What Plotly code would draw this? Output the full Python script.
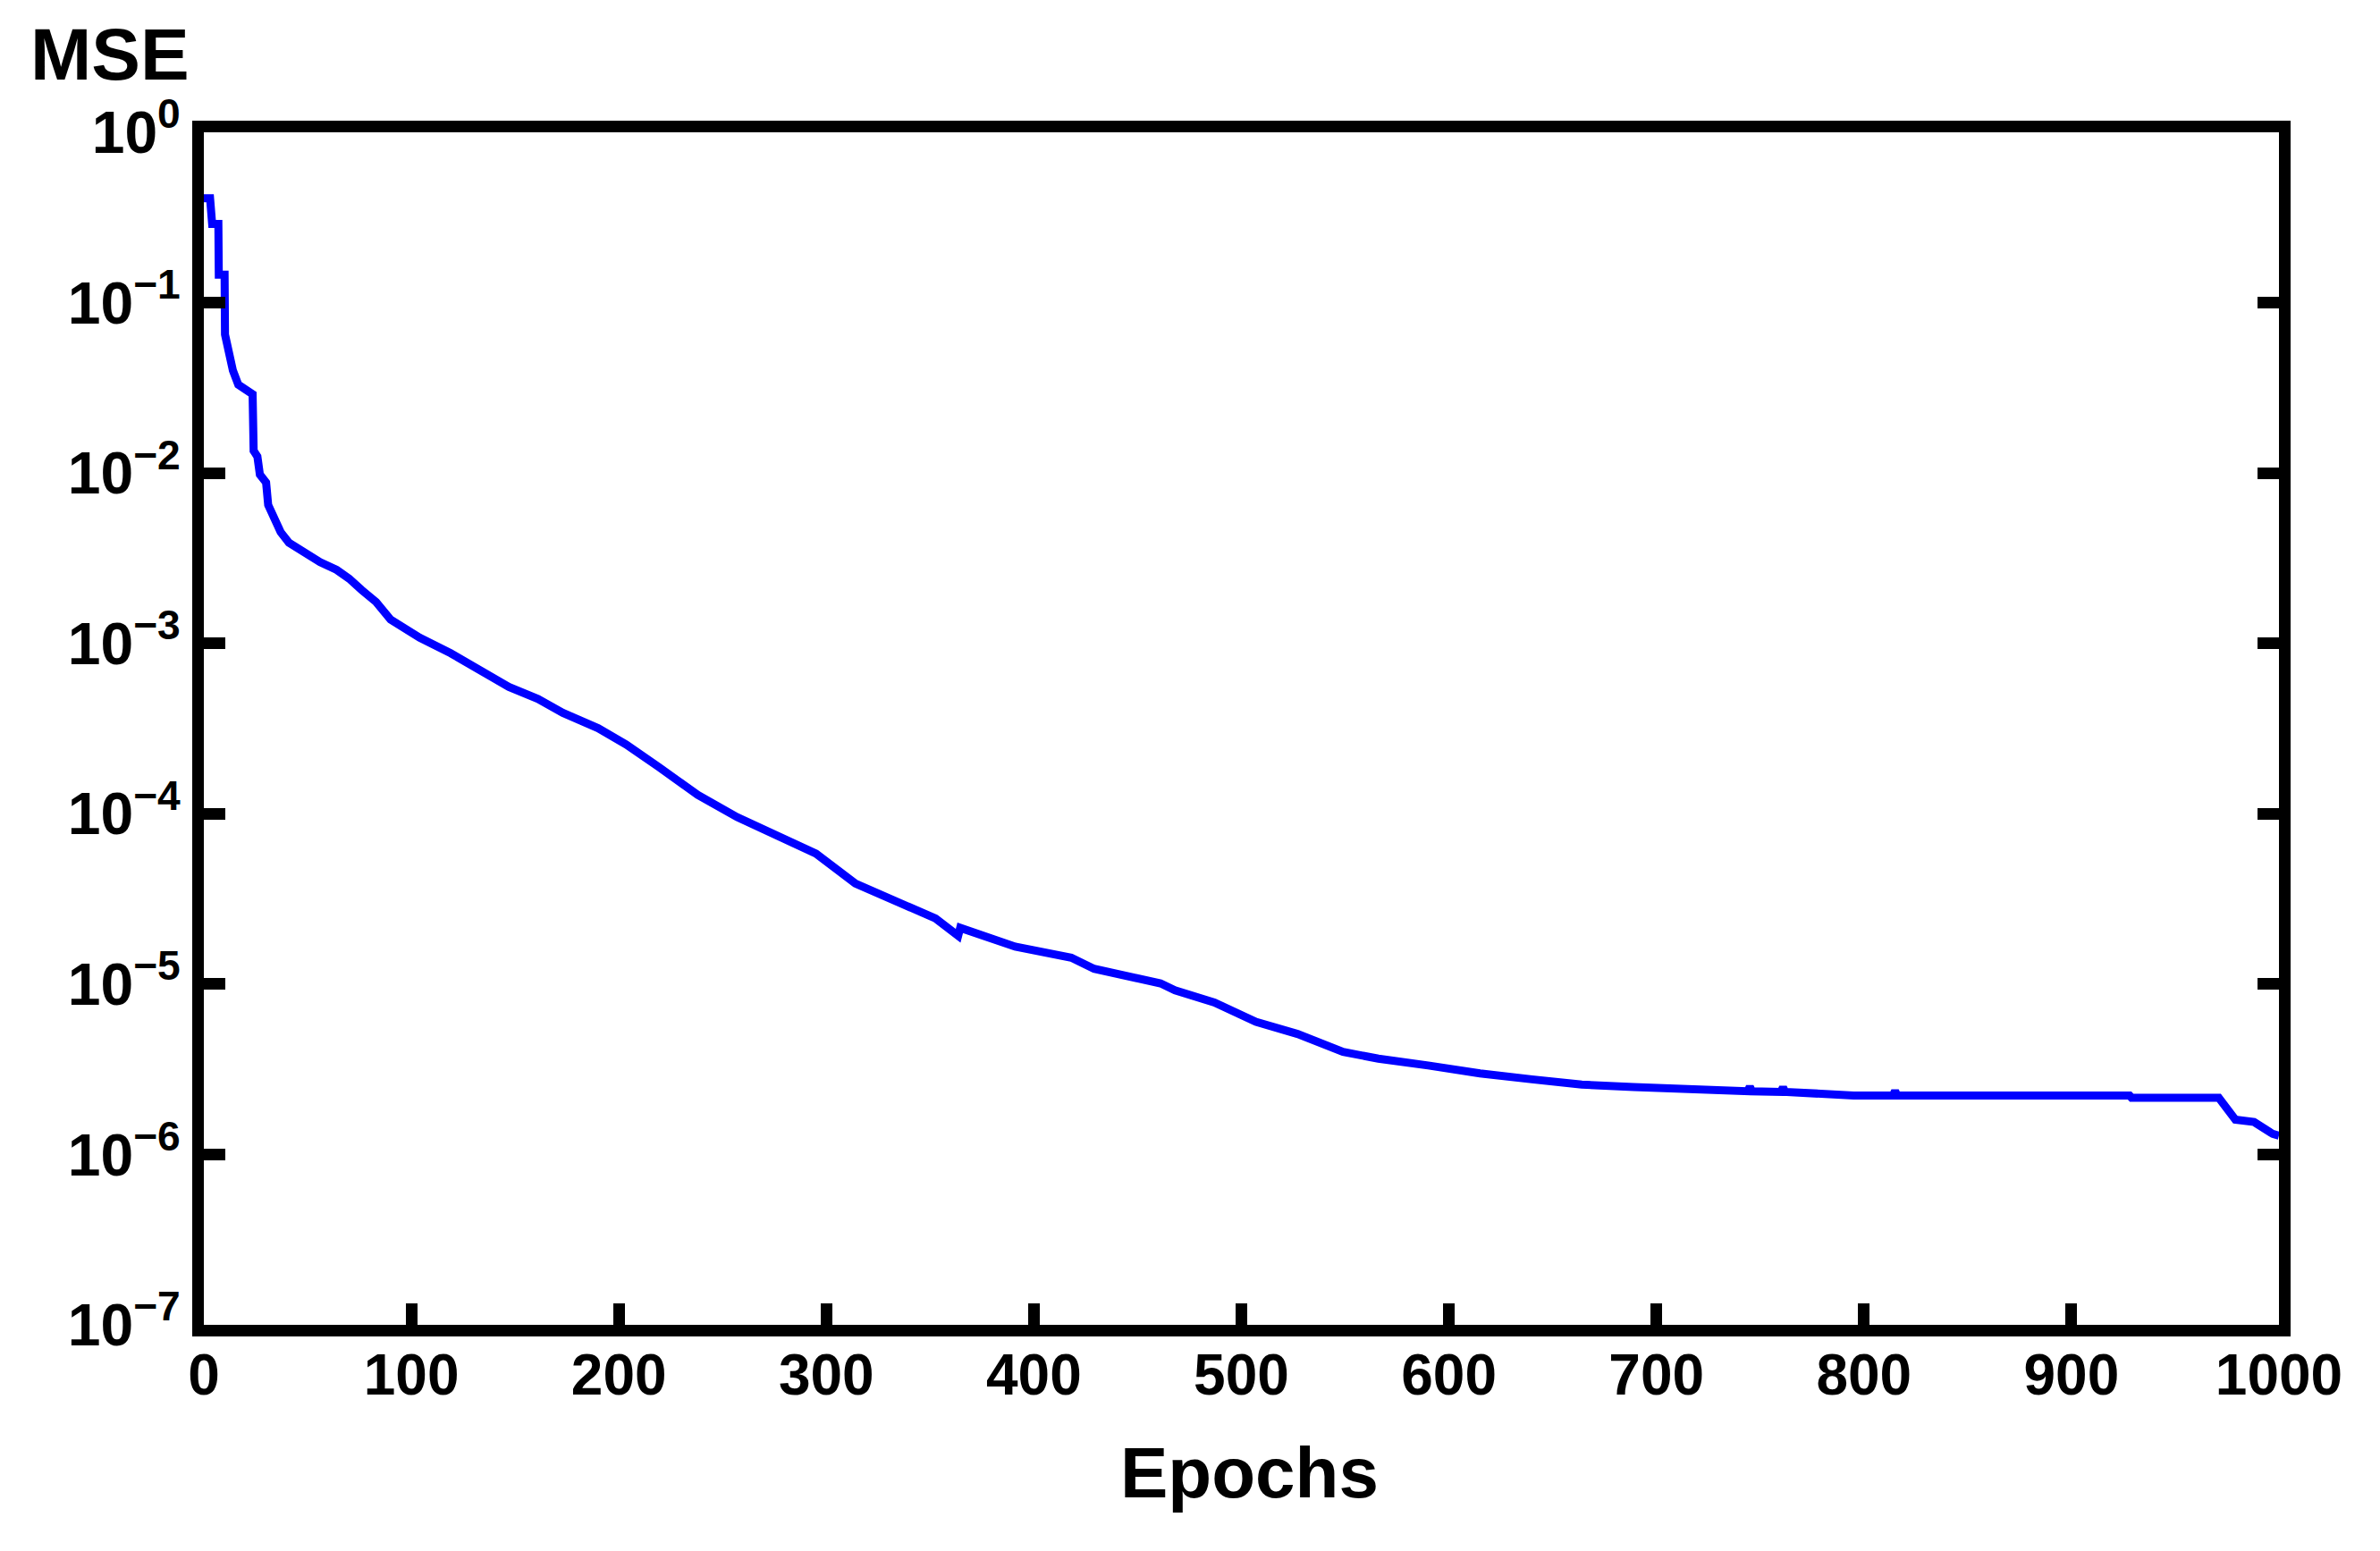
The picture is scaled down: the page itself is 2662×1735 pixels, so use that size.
import plotly.graph_objects as go

# ---- data (epoch, MSE) ----
epochs = [0, 3, 4, 7, 7.2, 10, 10.2, 12, 13, 14, 16.6, 21, 23.5, 24, 25.8, 27, 30, 31, 34, 37,
          41, 47, 53, 56, 64, 70, 76, 83, 90, 104, 119, 133, 147, 161, 173, 190, 203.5, 219,
          238, 257, 276, 295, 314, 333.5, 352.6, 363.5, 364.5, 391, 418, 429, 448, 461, 468,
          487, 507, 527, 549, 566, 590, 615, 640, 664, 689, 726, 744, 745, 746, 760, 761, 762,
          795, 814, 815, 816, 850, 928, 929, 971, 979, 988, 997, 1000]
mse = [4.1e-1, 4.1e-1, 2.9e-1, 2.9e-1, 1.46e-1, 1.46e-1, 6.5e-2, 5.2e-2, 4.6e-2, 4.0e-2,
       3.3e-2, 3.0e-2, 2.9e-2, 1.35e-2, 1.25e-2, 9.8e-3, 8.8e-3, 6.5e-3, 5.4e-3, 4.5e-3,
       3.9e-3, 3.5e-3, 3.2e-3, 3.0e-3, 2.7e-3, 2.4e-3, 2.06e-3, 1.75e-3, 1.38e-3, 1.08e-3,
       8.75e-4, 7.06e-4, 5.55e-4, 4.72e-4, 3.91e-4, 3.18e-4, 2.55e-4, 1.89e-4, 1.29e-4,
       9.55e-5, 7.55e-5, 5.83e-5, 3.89e-5, 3.08e-5, 2.43e-5, 1.92e-5, 2.14e-5, 1.66e-5,
       1.43e-5, 1.23e-5, 1.08e-5, 1.01e-5, 9.2e-6, 7.8e-6, 6.0e-6, 5.1e-6, 4.0e-6, 3.65e-6,
       3.33e-6, 2.99e-6, 2.76e-6, 2.57e-6, 2.49e-6, 2.39e-6, 2.35e-6, 2.5e-6, 2.35e-6,
       2.33e-6, 2.48e-6, 2.33e-6, 2.22e-6, 2.22e-6, 2.36e-6, 2.22e-6, 2.22e-6, 2.22e-6,
       2.15e-6, 2.15e-6, 1.6e-6, 1.55e-6, 1.32e-6, 1.29e-6]

x_ticks = [0, 100, 200, 300, 400, 500, 600, 700, 800, 900, 1000]
x_ticktext = ["0", "100", "200", "300", "400", "500", "600", "700", "800", "900", "1000"]
y_ticks = [1e0, 1e-1, 1e-2, 1e-3, 1e-4, 1e-5, 1e-6, 1e-7]
y_ticktext = ["10<sup>0</sup>", "10<sup>−1</sup>", "10<sup>−2</sup>", "10<sup>−3</sup>",
              "10<sup>−4</sup>", "10<sup>−5</sup>", "10<sup>−6</sup>", "10<sup>−7</sup>"]

FONT = "Liberation Sans, Arial, sans-serif"
LW = 13

fig = go.Figure()
fig.add_trace(go.Scatter(x=epochs, y=mse, mode="lines",
                         line=dict(color="#0000FF", width=9),
                         showlegend=False, hoverinfo="skip"))
# invisible carrier for the right-hand tick axis
fig.add_trace(go.Scatter(x=epochs, y=mse, mode="lines", yaxis="y2", opacity=0,
                         line=dict(color="rgba(0,0,0,0)", width=0),
                         showlegend=False, hoverinfo="skip"))

fig.update_layout(
    width=2662, height=1735,
    margin=dict(l=220, r=121, t=140, b=261, pad=0),
    paper_bgcolor="white", plot_bgcolor="white",
    font=dict(family=FONT, color="black"),
    xaxis=dict(range=[0, 1000], tickvals=x_ticks, ticktext=x_ticktext,
               ticks="inside", ticklen=24, tickwidth=13, tickcolor="black",
               showline=True, linewidth=LW, linecolor="black", mirror=True,
               showgrid=False, zeroline=False, ticklabelstandoff=-12,
               tickfont=dict(family=FONT, size=64, color="black", weight="bold")),
    yaxis=dict(type="log", range=[-7, 0], tickvals=y_ticks, ticktext=y_ticktext,
               ticks="inside", ticklen=24, tickwidth=13, tickcolor="black",
               showline=True, linewidth=LW, linecolor="black", mirror=True,
               showgrid=False, zeroline=False,
               tickfont=dict(family=FONT, size=66, color="black", weight="bold")),
    yaxis2=dict(type="log", range=[-7, 0], tickvals=y_ticks, overlaying="y", side="right",
                ticks="inside", ticklen=24, tickwidth=13, tickcolor="black",
                showticklabels=False, showline=True, linewidth=LW, linecolor="black",
                showgrid=False, zeroline=False),
    annotations=[
        dict(text="<b>MSE</b>", xref="paper", yref="paper", x=-0.0452, y=1.0655,
             xanchor="center", yanchor="middle", showarrow=False,
             font=dict(family=FONT, size=82, color="black")),
        dict(text="<b>Epochs</b>", xref="paper", yref="paper", x=0.504, y=-0.1244,
             xanchor="center", yanchor="middle", showarrow=False,
             font=dict(family=FONT, size=80, color="black")),
    ],
)

fig.write_html("out.html")
